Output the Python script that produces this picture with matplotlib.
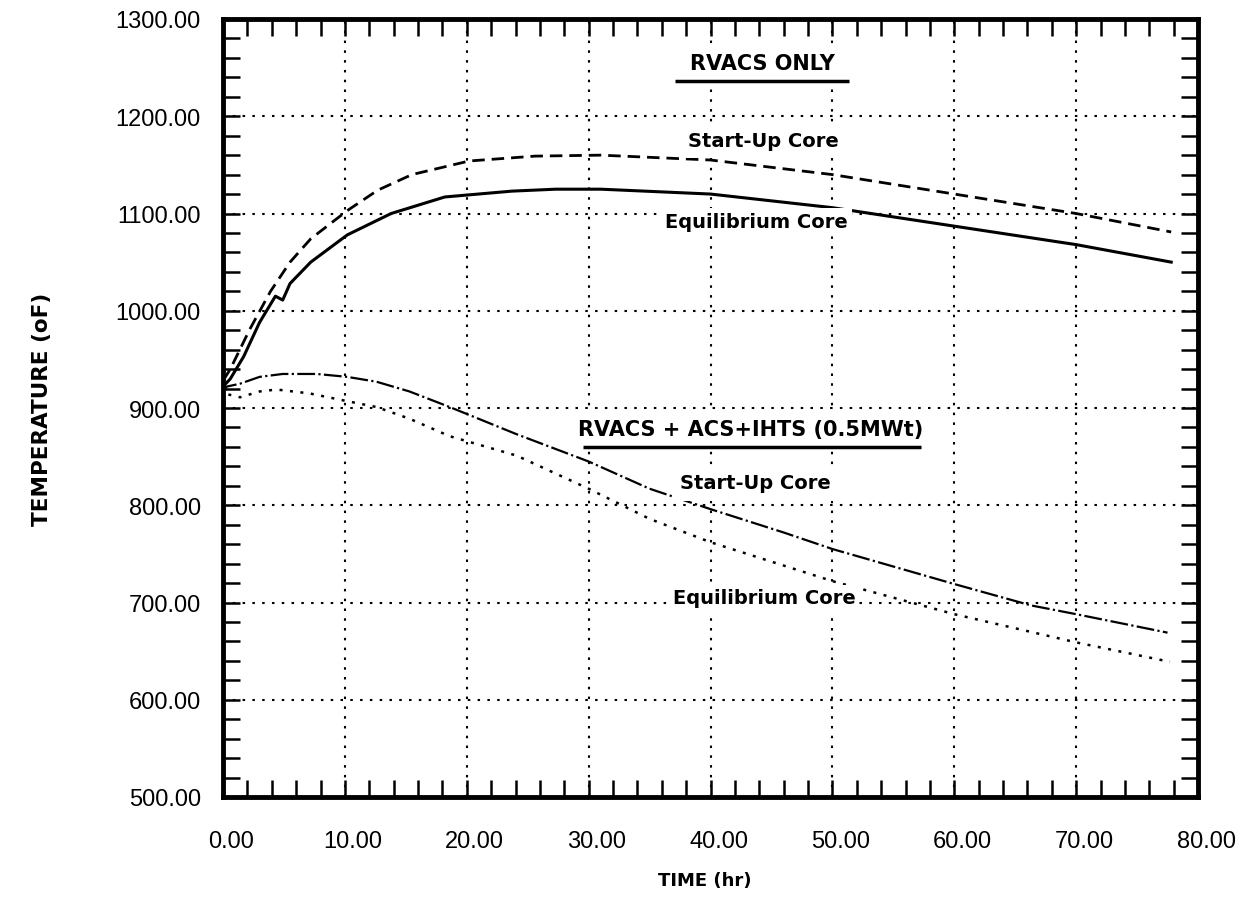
import numpy as np
import matplotlib.pyplot as plt
import matplotlib.transforms as mtransforms
from matplotlib.ticker import MultipleLocator, FormatStrFormatter

# -------------------- datos --------------------
# RVACS solo
t_rv_su = [0.0, 0.6, 2.2, 3.9, 5.5, 7.2, 10.2, 12.7, 15.5, 20.2, 25.6, 31.0,
           40.0, 50.0, 60.0, 70.0, 77.8]
T_rv_su = [928, 940, 981, 1020, 1050, 1074, 1103, 1124, 1140, 1154, 1159, 1160,
           1155, 1140, 1120, 1100, 1081]

t_rv_eq = [0.0, 0.6, 1.7, 3.0, 4.3, 4.9, 5.5, 7.2, 10.2, 13.8, 18.2, 23.7,
           27.3, 31.0, 40.0, 50.0, 60.0, 70.0, 77.8]
T_rv_eq = [922, 930, 953, 988, 1015, 1011, 1028, 1050, 1078, 1100, 1117, 1123,
           1125, 1125, 1120, 1106, 1087, 1068, 1050]

# RVACS + ACS + IHTS (0.5 MWt)
t_acs_su = [0.0, 0.3, 1.4, 3.0, 4.9, 7.7, 10.2, 12.6, 15.3, 18.6, 24.1, 30.0,
            35.0, 40.0, 46.0, 50.0, 60.0, 66.3, 70.0, 77.5]
T_acs_su = [915, 922, 925, 932, 935, 935, 932, 927, 917, 901, 873, 845,
            817, 796, 772, 755, 719, 697, 688, 669]

t_acs_eq = [0.0, 0.4, 1.4, 3.0, 4.4, 7.1, 10.2, 12.6, 15.3, 18.6, 24.1, 30.0,
            35.0, 40.0, 46.0, 50.0, 60.0, 70.0, 77.7]
T_acs_eq = [905, 914, 911, 917, 919, 915, 907, 901, 889, 871, 851, 817,
            786, 762, 738, 722, 688, 659, 639]

x_lim = (0, 80)
y_lim = (500, 1300)

# -------------------- figura --------------------
fig = plt.figure(figsize=(12.5, 9.03), dpi=100)
ax = fig.add_axes([223/1250, 1 - 798/903, 975/1250, 778/903])

ax.plot(t_rv_su, T_rv_su, color='black', lw=2.0, ls=(0, (4.5, 2.5)))
ax.plot(t_rv_eq, T_rv_eq, color='black', lw=2.2, ls='-')
ax.plot(t_acs_su, T_acs_su, color='black', lw=1.6, ls=(0, (8, 1.5, 1, 1.5)))
ax.plot(t_acs_eq, T_acs_eq, color='black', lw=1.8, ls=(0, (1.2, 3)))

ax.set_xlim(*x_lim)
ax.set_ylim(*y_lim)

ax.xaxis.set_major_locator(MultipleLocator(10))
ax.xaxis.set_minor_locator(MultipleLocator(2))
ax.yaxis.set_major_locator(MultipleLocator(100))
ax.yaxis.set_minor_locator(MultipleLocator(20))
ax.xaxis.set_major_formatter(FormatStrFormatter('%.2f'))
ax.yaxis.set_major_formatter(FormatStrFormatter('%.2f'))

ax.tick_params(which='both', direction='in', top=True, right=True,
               length=12, width=1.8, color='black')
ax.tick_params(axis='x', which='major', pad=24)
ax.tick_params(axis='y', which='major', pad=16)
shift = mtransforms.ScaledTranslation(8/100, 0, fig.dpi_scale_trans)
for lab in ax.get_xticklabels():
    lab.set_transform(lab.get_transform() + shift)
for lab in ax.get_xticklabels() + ax.get_yticklabels():
    lab.set_fontfamily('Liberation Sans')
    lab.set_fontsize(17)

for sp in ax.spines.values():
    sp.set_linewidth(3.5)
    sp.set_zorder(5)

ax.grid(which='major', color='black', lw=1.5, ls=(0, (1.2, 3.5)))
ax.set_axisbelow(True)

ax.set_xlabel('TIME (hr)', fontsize=13, fontweight='bold')
ax.set_ylabel('TEMPERATURE (oF)', fontsize=15.5, fontweight='bold')
ax.xaxis.set_label_coords((705 - 223) / 975, (798 - 872) / 778)
ax.yaxis.set_label_coords((52 - 223) / 975, 0.5)

# -------------------- etiquetas --------------------
kw = dict(ha='center', va='center', fontweight='bold', zorder=4)
big = dict(facecolor='white', edgecolor='none', pad=6)
small = dict(facecolor='white', edgecolor='none', pad=2.5)
ax.text(44.3, 1255, 'RVACS ONLY', fontsize=15, bbox=big, **kw)
ax.plot([37.1, 51.4], [1236, 1236], color='black', lw=2.5, zorder=6,
        solid_capstyle='butt')
ax.text(44.3, 1175, 'Start-Up Core', fontsize=14, bbox=big, **kw)
ax.text(43.8, 1092, 'Equilibrium Core', fontsize=14, bbox=small, **kw)

ax.text(43.3, 878, 'RVACS + ACS+IHTS (0.5MWt)', fontsize=15, bbox=big, **kw)
ax.plot([29.5, 57.3], [860, 860], color='black', lw=2.5, zorder=6,
        solid_capstyle='butt')
ax.text(43.7, 823, 'Start-Up Core', fontsize=14, bbox=big, **kw)
ax.text(44.4, 705, 'Equilibrium Core', fontsize=14, bbox=small, **kw)

fig.savefig('out.png', dpi=100)
